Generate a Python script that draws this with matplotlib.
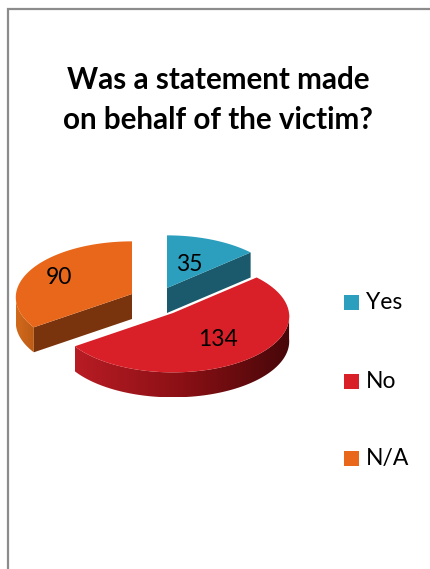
import numpy as np
import matplotlib
matplotlib.use("Agg")
import matplotlib.pyplot as plt
from matplotlib.colors import LinearSegmentedColormap
from matplotlib.patches import Polygon, Rectangle

categories = ["Yes", "No", "N/A"]
counts = [35, 134, 90]
top_colors = ["#2b9fbd", "#d91f27", "#e8671a"]

# exploded slice centres and label anchors, in pixels
centres = [(167, 288), (173, 313), (132, 294)]
label_pos = [(189, 264), (218, 339), (59, 277)]
legend_y = [302, 381, 458]

RX, RY = 116, 56
TILT = 0.06
DEPTH = 25


def rim(theta, centre):
    # theta is clockwise from 12 o'clock; nearer points are drawn a bit bigger
    u = -np.cos(theta)
    x = centre[0] + RX * np.sin(theta) * (1 + TILT * u)
    y = centre[1] + RY * u * (1 + TILT * u)
    return np.column_stack([x, y])


fig = plt.figure(figsize=(4.3, 5.69), dpi=100)
ax = fig.add_axes([0, 0, 1, 1])
ax.axis("off")

# chart frame, open on the right and bottom
ax.plot([8, 8, 430], [569, 9, 9], color="#8c8c8c", lw=1.6, solid_joinstyle="miter")

ax.text(218, 100, "Was a statement made\non behalf of the victim?", ha="center", va="center",
        fontsize=21.3, fontweight="bold", family="Lato", linespacing=1.48, color="black")

edges = np.concatenate([[0], np.cumsum(counts)]) / sum(counts) * 2 * np.pi

# wall colours running left to right along the visible rim
wall_colors = {1: ["#b81c24", "#8a1015", "#470709"], 2: ["#d26a1c", "#bb5a15"]}
cut_colors = {0: "#1a5a6c", 2: "#7a340d"}

# back to front: teal and orange first, the red slice last
for i in [0, 2, 1]:
    start, end = edges[i], edges[i + 1]
    c = centres[i]
    thetas = np.linspace(start, end, 200)
    arc = rim(thetas, c)

    # cut faces that turn towards the viewer
    if i in cut_colors:
        p = rim(np.array([end if i == 0 else start]), c)[0]
        ax.add_patch(Polygon([c, p, (p[0], p[1] + DEPTH), (c[0], c[1] + DEPTH)],
                             fc=cut_colors[i], ec="none", zorder=2))

    # outer wall, only the front half of the rim, filled with a clipped gradient
    if i in wall_colors:
        pts = arc[(thetas > np.pi / 2) & (thetas < 3 * np.pi / 2)]
        wall = Polygon(np.vstack([pts, pts[::-1] + [0, DEPTH]]), fc="none", ec="none",
                       transform=ax.transData)
        ax.add_patch(wall)
        cmap = LinearSegmentedColormap.from_list("wall", wall_colors[i])
        img = ax.imshow(np.linspace(0, 1, 256)[None, :], cmap=cmap, aspect="auto", zorder=3,
                        extent=[pts[:, 0].min(), pts[:, 0].max(), pts[:, 1].max() + DEPTH, pts[:, 1].min()])
        img.set_clip_path(wall)

    ax.add_patch(Polygon(np.vstack([[c], arc]), fc=top_colors[i], ec="none", zorder=4))

for i, cat in enumerate(categories):
    ax.text(label_pos[i][0], label_pos[i][1], str(counts[i]), ha="center", va="center",
            fontsize=16.5, family="Lato", color="black", zorder=6)
    ax.add_patch(Rectangle((344, legend_y[i] - 7.5), 15, 15, fc=top_colors[i], ec="none"))
    ax.text(366, legend_y[i], cat, ha="left", va="center", fontsize=16.5, family="Lato", color="black")

# imshow resets the limits, so the pixel frame is set last
ax.set_xlim(0, 430)
ax.set_ylim(569, 0)

fig.savefig("out.png", dpi=100)
